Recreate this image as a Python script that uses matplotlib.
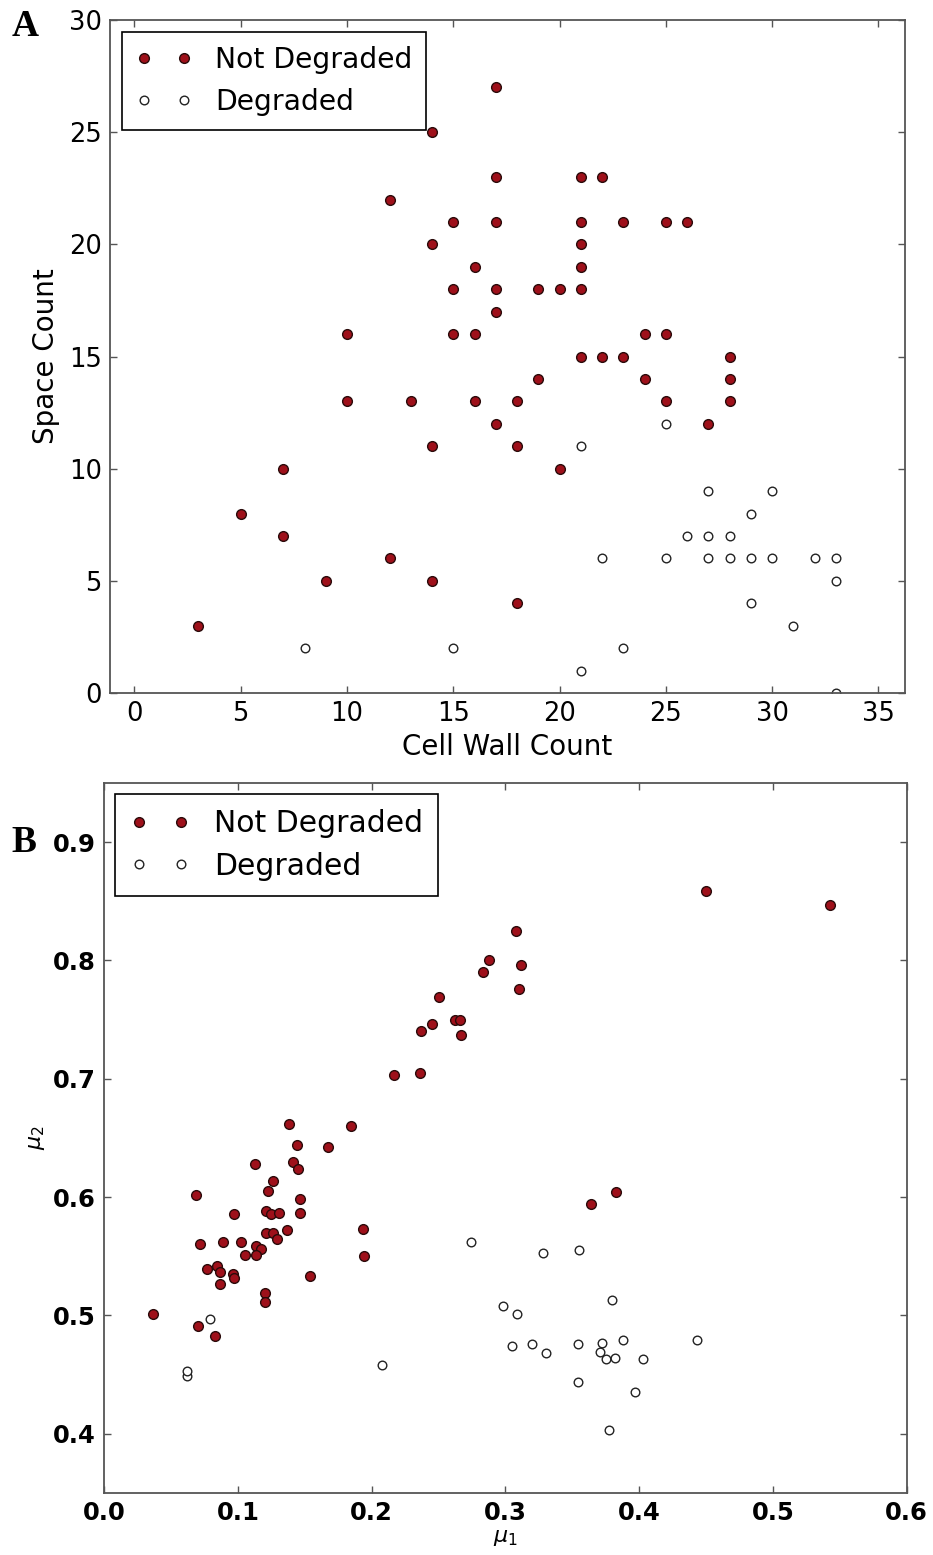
import matplotlib
matplotlib.use("Agg")
import matplotlib.pyplot as plt

# panel A: cell wall count vs space count
wall_ok = [3, 5, 7, 7, 9, 10, 10, 12, 12, 13, 14, 14, 14, 14, 15, 15, 15, 16, 16, 16,
           17, 17, 17, 17, 17, 17, 18, 18, 18, 19, 19, 20, 20, 21, 21, 21, 21, 21, 21,
           22, 22, 23, 23, 24, 24, 25, 25, 25, 26, 27, 28, 28, 28]
space_ok = [3, 8, 10, 7, 5, 16, 13, 22, 6, 13, 25, 20, 11, 5, 21, 18, 16, 19, 16, 13,
            27, 23, 21, 18, 17, 12, 13, 11, 4, 18, 14, 18, 10, 23, 21, 20, 19, 18, 15,
            23, 15, 21, 15, 16, 14, 21, 16, 13, 21, 12, 15, 14, 13]
wall_deg = [8, 15, 21, 21, 22, 23, 25, 25, 26, 27, 27, 27, 28, 28, 29, 29, 29, 30, 30,
            31, 32, 33, 33, 33]
space_deg = [2, 2, 11, 1, 6, 2, 12, 6, 7, 9, 7, 6, 7, 6, 8, 6, 4, 9, 6, 3, 6, 6, 5, 0]

# panel B: mu1 vs mu2
mu1_ok = [0.1385, 0.1846, 0.144, 0.1676, 0.1129, 0.1415, 0.1452, 0.1265, 0.1223, 0.0685,
          0.1465, 0.0974, 0.1208, 0.1246, 0.131, 0.1465, 0.1365, 0.1208, 0.1265, 0.1291,
          0.1938, 0.0717, 0.0892, 0.1022, 0.1136, 0.1173, 0.1054, 0.1136, 0.1945, 0.0772,
          0.0847, 0.0866, 0.0966, 0.0974, 0.154, 0.0866, 0.1203, 0.1203, 0.0368, 0.0705,
          0.083, 0.217, 0.2362, 0.2367, 0.2449, 0.2506, 0.262, 0.266, 0.2666, 0.283,
          0.288, 0.3077, 0.3117, 0.31, 0.450, 0.5426, 0.3637, 0.383]
mu2_ok = [0.662, 0.660, 0.644, 0.642, 0.628, 0.630, 0.624, 0.614, 0.605, 0.602,
          0.598, 0.586, 0.588, 0.586, 0.587, 0.587, 0.572, 0.570, 0.570, 0.565,
          0.573, 0.560, 0.562, 0.562, 0.559, 0.556, 0.551, 0.551, 0.550, 0.539,
          0.542, 0.537, 0.535, 0.532, 0.533, 0.527, 0.519, 0.511, 0.501, 0.491,
          0.483, 0.703, 0.705, 0.740, 0.746, 0.769, 0.750, 0.750, 0.737, 0.790,
          0.800, 0.825, 0.796, 0.776, 0.859, 0.847, 0.594, 0.604]
mu1_deg = [0.0792, 0.0618, 0.0622, 0.2075, 0.274, 0.3283, 0.3552, 0.3799, 0.2984, 0.3089,
           0.3052, 0.3197, 0.3301, 0.3545, 0.372, 0.3707, 0.3752, 0.3819, 0.3881, 0.4031,
           0.443, 0.3545, 0.3969, 0.3777]
mu2_deg = [0.497, 0.449, 0.453, 0.458, 0.562, 0.553, 0.555, 0.513, 0.508, 0.501,
           0.474, 0.476, 0.468, 0.476, 0.477, 0.469, 0.463, 0.464, 0.479, 0.463,
           0.479, 0.444, 0.435, 0.403]

red = "#9e101a"
spine_col = "#555555"


def style_axes(ax, size, weight="normal"):
    for s in ax.spines.values():
        s.set_color(spine_col)
        s.set_linewidth(1.3)
    ax.tick_params(direction="in", top=True, right=True, length=5, width=1,
                   color=spine_col, labelsize=size, pad=6)
    for lab in ax.get_xticklabels() + ax.get_yticklabels():
        lab.set_fontweight(weight)


def add_legend(ax, size, axpad, spacing):
    leg = ax.legend(loc="upper left", numpoints=2, fontsize=size, fancybox=False,
                    edgecolor="black", framealpha=1, borderaxespad=axpad,
                    handlelength=2.0, handletextpad=0.8, borderpad=0.5,
                    labelspacing=spacing)
    leg.get_frame().set_linewidth(1.2)
    return leg


fig = plt.figure(figsize=(9.33, 15.55), dpi=100)

# ---- A ----
axA = fig.add_axes([0.1179, 0.5543, 0.8521, 0.4328])
axA.plot(wall_ok, space_ok, "o", color=red, markeredgecolor="#2a0a0a",
         markeredgewidth=1.0, markersize=7, label="Not Degraded")
axA.plot(wall_deg, space_deg, "o", markerfacecolor="white", markeredgecolor="#222222",
         markeredgewidth=1.0, markersize=6.2, label="Degraded")
axA.set_xlim(-1.15, 36.25)
axA.set_ylim(0, 30)
axA.set_xticks(range(0, 36, 5))
axA.set_yticks(range(0, 31, 5))
axA.set_xlabel("Cell Wall Count", fontsize=20, labelpad=4)
axA.set_ylabel("Space Count", fontsize=20, labelpad=6)
style_axes(axA, 18.5)
add_legend(axA, 20.3, 0.42, 0.5)
fig.text(0.012, 0.983, "A", fontsize=27, fontweight="bold", family="Liberation Serif",
         va="center")

# ---- B ----
axB = fig.add_axes([0.1115, 0.0399, 0.8604, 0.4566])
axB.plot(mu1_ok, mu2_ok, "o", color=red, markeredgecolor="#2a0a0a",
         markeredgewidth=1.0, markersize=7, label="Not Degraded")
axB.plot(mu1_deg, mu2_deg, "o", markerfacecolor="white", markeredgecolor="#222222",
         markeredgewidth=1.0, markersize=6.2, label="Degraded")
axB.set_xlim(0, 0.6)
axB.set_ylim(0.35, 0.95)
axB.set_xticks([0.0, 0.1, 0.2, 0.3, 0.4, 0.5, 0.6])
axB.set_yticks([0.4, 0.5, 0.6, 0.7, 0.8, 0.9])
axB.set_xlabel(r"$\mu_1$", fontsize=16, labelpad=2)
axB.set_ylabel(r"$\mu_2$", fontsize=16, labelpad=4)
style_axes(axB, 17.5, weight="bold")
add_legend(axB, 21.5, 0.38, 0.45)
fig.text(0.012, 0.458, "B", fontsize=27, fontweight="bold", family="Liberation Serif",
         va="center")

fig.savefig("out.png", dpi=100)
